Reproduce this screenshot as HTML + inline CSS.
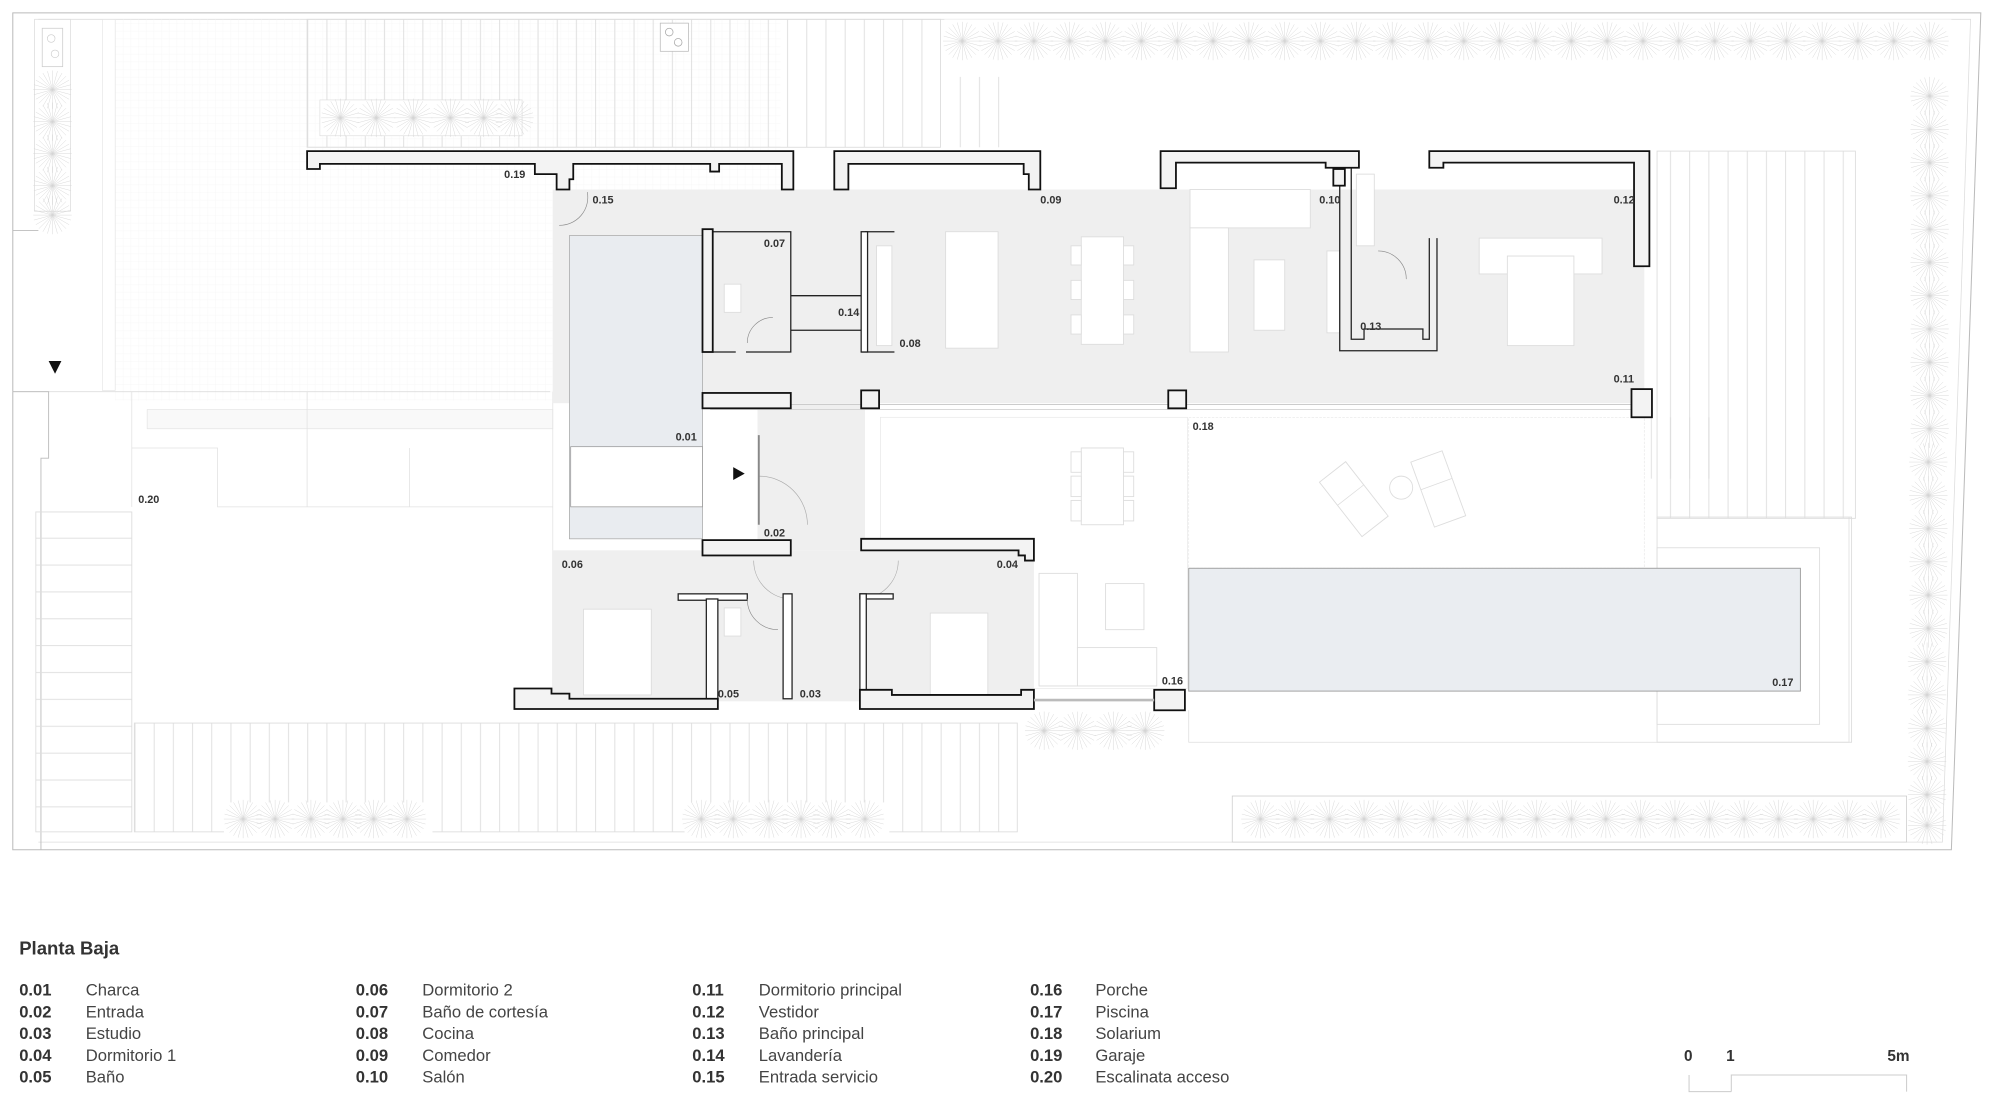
<!DOCTYPE html>
<html><head><meta charset="utf-8">
<style>
html,body{margin:0;padding:0;background:#fff;}
svg{display:block;}
text{font-family:"Liberation Sans",sans-serif;}
.lb{font-size:8.5px;fill:#333;font-weight:bold;}
.lc{font-size:13px;fill:#333;font-weight:bold;}
.ln{font-size:13px;fill:#444;}
.w{fill:#f3f3f3;stroke:#111;stroke-width:1.4;}
.f{fill:#fff;stroke:#ddd;stroke-width:0.7;}
.g{fill:none;stroke:#ddd;stroke-width:0.7;}
</style></head><body>
<svg width="2000" height="1093" viewBox="0 0 1563 854" xmlns="http://www.w3.org/2000/svg">
<defs>
<g id="st" stroke="#d4d4d4" stroke-width="0.35">
<line x1="-15" y1="0" x2="15" y2="0"/><line x1="0" y1="-15" x2="0" y2="15"/>
<line x1="-14.5" y1="-3.9" x2="14.5" y2="3.9"/><line x1="-14.5" y1="3.9" x2="14.5" y2="-3.9"/>
<line x1="-13" y1="-7.5" x2="13" y2="7.5"/><line x1="-13" y1="7.5" x2="13" y2="-7.5"/>
<line x1="-10.6" y1="-10.6" x2="10.6" y2="10.6"/><line x1="-10.6" y1="10.6" x2="10.6" y2="-10.6"/>
<line x1="-7.5" y1="-13" x2="7.5" y2="13"/><line x1="-7.5" y1="13" x2="7.5" y2="-13"/>
<line x1="-3.9" y1="-14.5" x2="3.9" y2="14.5"/><line x1="-3.9" y1="14.5" x2="3.9" y2="-14.5"/>
</g>
<pattern id="vd" width="15" height="10" patternUnits="userSpaceOnUse"><line x1="0.5" y1="0" x2="0.5" y2="10" stroke="#ddd" stroke-width="0.7"/></pattern>
<pattern id="hd" width="10" height="21" patternUnits="userSpaceOnUse"><line x1="0" y1="0.5" x2="10" y2="0.5" stroke="#ddd" stroke-width="0.7"/></pattern>
<pattern id="grid" width="6" height="6" patternUnits="userSpaceOnUse"><path d="M0 0.3H6M0.3 0V6" stroke="#f7f7f7" stroke-width="0.4"/></pattern>
</defs>

<path d="M10 10 H1548 L1525 664 H10 Z" fill="none" stroke="#bbb" stroke-width="0.8"/>
<path d="M30 15 H1540 L1518 658 H30" fill="none" stroke="#ddd" stroke-width="0.6"/>

<rect x="90" y="15" width="520" height="298" fill="url(#grid)"/>
<rect x="80" y="15" width="10" height="290" fill="none" stroke="#e4e4e4" stroke-width="0.5"/>
<line x1="10" y1="180" x2="30" y2="180" stroke="#bbb" stroke-width="0.7"/>
<line x1="10" y1="306" x2="430" y2="306" stroke="#ddd" stroke-width="0.7"/>
<path d="M10 306 H38 V358 H32 V664" fill="none" stroke="#bbb" stroke-width="0.7"/>
<rect x="27" y="15" width="28" height="150" fill="none" stroke="#ddd" stroke-width="0.6"/>
<rect x="33" y="22" width="16" height="30" fill="none" stroke="#ccc" stroke-width="0.6"/>
<circle cx="40" cy="30" r="3" fill="none" stroke="#ccc" stroke-width="0.5"/>
<circle cx="43" cy="42" r="3" fill="none" stroke="#ccc" stroke-width="0.5"/>
<g><use href="#st" x="41" y="70"/><use href="#st" x="41" y="95"/><use href="#st" x="41" y="120"/><use href="#st" x="41" y="145"/><use href="#st" x="41" y="168"/></g>
<polygon points="38,282 48,282 43,292" fill="#111"/>

<rect x="240" y="15" width="495" height="100" fill="url(#vd)"/>
<rect x="240" y="15" width="495" height="100" class="g"/>
<rect x="250" y="78" width="158" height="28" fill="#fff" stroke="#ddd" stroke-width="0.5"/>
<g><use href="#st" x="266" y="92"/><use href="#st" x="294" y="92"/><use href="#st" x="323" y="92"/><use href="#st" x="352" y="92"/><use href="#st" x="378" y="92"/><use href="#st" x="402" y="92"/></g>
<rect x="516" y="18" width="22" height="22" fill="#fff" stroke="#bbb" stroke-width="0.6"/>
<circle cx="523" cy="25" r="3" fill="none" stroke="#aaa" stroke-width="0.6"/><circle cx="530" cy="33" r="3" fill="none" stroke="#aaa" stroke-width="0.6"/>
<rect x="740" y="60" width="48" height="55" fill="url(#vd)"/>
<rect x="738" y="15" width="787" height="35" fill="#fff"/>
<g><use href="#st" x="752" y="32"/><use href="#st" x="780" y="32"/><use href="#st" x="808" y="32"/><use href="#st" x="836" y="32"/><use href="#st" x="864" y="32"/><use href="#st" x="892" y="32"/><use href="#st" x="920" y="32"/><use href="#st" x="948" y="32"/><use href="#st" x="976" y="32"/><use href="#st" x="1004" y="32"/><use href="#st" x="1032" y="32"/><use href="#st" x="1060" y="32"/><use href="#st" x="1088" y="32"/><use href="#st" x="1116" y="32"/><use href="#st" x="1144" y="32"/><use href="#st" x="1172" y="32"/><use href="#st" x="1200" y="32"/><use href="#st" x="1228" y="32"/><use href="#st" x="1256" y="32"/><use href="#st" x="1284" y="32"/><use href="#st" x="1312" y="32"/><use href="#st" x="1340" y="32"/><use href="#st" x="1368" y="32"/><use href="#st" x="1396" y="32"/><use href="#st" x="1424" y="32"/><use href="#st" x="1452" y="32"/><use href="#st" x="1480" y="32"/><use href="#st" x="1508" y="32"/></g>
<g><use href="#st" x="1508" y="75"/><use href="#st" x="1508" y="101"/><use href="#st" x="1508" y="127"/><use href="#st" x="1508" y="153"/><use href="#st" x="1508" y="179"/><use href="#st" x="1508" y="205"/><use href="#st" x="1508" y="231"/><use href="#st" x="1508" y="257"/><use href="#st" x="1508" y="283"/><use href="#st" x="1508" y="309"/><use href="#st" x="1508" y="335"/><use href="#st" x="1507" y="361"/><use href="#st" x="1507" y="387"/><use href="#st" x="1507" y="413"/><use href="#st" x="1507" y="439"/><use href="#st" x="1507" y="465"/><use href="#st" x="1507" y="491"/><use href="#st" x="1506" y="517"/><use href="#st" x="1506" y="543"/><use href="#st" x="1506" y="569"/><use href="#st" x="1506" y="595"/><use href="#st" x="1506" y="621"/><use href="#st" x="1506" y="645"/></g>
<rect x="1295" y="118" width="155" height="287" fill="url(#vd)"/>
<rect x="1295" y="118" width="155" height="287" class="g"/>
<rect x="1295" y="404" width="152" height="176" class="g"/>
<rect x="1295" y="428" width="127" height="138" class="g"/>
<rect x="1290" y="326" width="60" height="48" fill="url(#vd)"/>

<rect x="115" y="320" width="317" height="15" fill="#f9f9f9" stroke="#e2e2e2" stroke-width="0.5"/>
<path d="M103 306 V396 M103 350 H170 V396 H432 M320 350 V396 M240 306 V396 M432 306 V540" fill="none" stroke="#e2e2e2" stroke-width="0.6"/>
<rect x="28" y="400" width="75" height="250" fill="url(#hd)"/>
<rect x="28" y="400" width="75" height="250" class="g"/>
<rect x="105" y="565" width="690" height="85" fill="url(#vd)"/>
<rect x="105" y="565" width="690" height="85" class="g"/>
<rect x="175" y="627" width="163" height="29" fill="#fff"/>
<rect x="535" y="627" width="160" height="29" fill="#fff"/>
<g><use href="#st" x="190" y="640"/><use href="#st" x="215" y="640"/><use href="#st" x="243" y="640"/><use href="#st" x="268" y="640"/><use href="#st" x="292" y="640"/><use href="#st" x="318" y="640"/>
<use href="#st" x="548" y="640"/><use href="#st" x="573" y="640"/><use href="#st" x="601" y="640"/><use href="#st" x="626" y="640"/><use href="#st" x="650" y="640"/><use href="#st" x="676" y="640"/></g>
<rect x="963" y="622" width="527" height="36" fill="#fff" stroke="#ccc" stroke-width="0.6"/>
<g><use href="#st" x="985" y="640"/><use href="#st" x="1012" y="640"/><use href="#st" x="1039" y="640"/><use href="#st" x="1066" y="640"/><use href="#st" x="1093" y="640"/><use href="#st" x="1120" y="640"/><use href="#st" x="1147" y="640"/><use href="#st" x="1174" y="640"/><use href="#st" x="1201" y="640"/><use href="#st" x="1228" y="640"/><use href="#st" x="1255" y="640"/><use href="#st" x="1282" y="640"/><use href="#st" x="1309" y="640"/><use href="#st" x="1336" y="640"/><use href="#st" x="1363" y="640"/><use href="#st" x="1390" y="640"/><use href="#st" x="1417" y="640"/><use href="#st" x="1444" y="640"/><use href="#st" x="1470" y="640"/></g>
<g><use href="#st" x="816" y="571"/><use href="#st" x="842" y="571"/><use href="#st" x="870" y="571"/><use href="#st" x="895" y="571"/></g>
<path d="M929 555 V580 H1445 V404" fill="none" stroke="#ddd" stroke-width="0.6"/>

<rect x="688" y="326" width="240" height="212" fill="#fff" stroke="#e6e6e6" stroke-width="0.5"/>
<rect x="929" y="326" width="356" height="118" fill="#fff" stroke="#e6e6e6" stroke-width="0.5" stroke-dasharray="2 1"/>

<rect x="432" y="148" width="853" height="167" fill="#efefef"/>
<rect x="432" y="430" width="376" height="118" fill="#efefef"/>
<rect x="592" y="315" width="84" height="115" fill="#efefef"/>
<rect x="445" y="184" width="104" height="237" fill="#e9ecf0" stroke="#aaa" stroke-width="0.6"/>
<rect x="446" y="349" width="103" height="47" fill="#fff" stroke="#999" stroke-width="0.6"/>
<rect x="929" y="444" width="478" height="96" fill="#eaedf1" stroke="#999" stroke-width="0.7"/>
<line x1="555" y1="316" x2="1285" y2="316" stroke="#ccc" stroke-width="0.8"/>
<line x1="555" y1="320" x2="1285" y2="320" stroke="#ccc" stroke-width="0.6"/>

<rect x="739" y="181" width="41" height="91" class="f"/>
<rect x="845" y="185" width="33" height="84" class="f"/>
<rect x="837" y="192" width="8" height="15" class="f"/><rect x="837" y="219" width="8" height="15" class="f"/><rect x="837" y="246" width="8" height="15" class="f"/>
<rect x="878" y="192" width="8" height="15" class="f"/><rect x="878" y="219" width="8" height="15" class="f"/><rect x="878" y="246" width="8" height="15" class="f"/>
<rect x="685" y="192" width="12" height="78" class="f"/>
<rect x="930" y="148" width="94" height="30" class="f"/><rect x="930" y="178" width="30" height="97" class="f"/>
<rect x="980" y="203" width="24" height="55" class="f"/>
<rect x="1037" y="196" width="10" height="64" class="f"/>
<rect x="1060" y="136" width="14" height="56" class="f"/>
<rect x="1156" y="186" width="96" height="28" class="f"/>
<rect x="1178" y="200" width="52" height="70" class="f"/>
<rect x="845" y="350" width="33" height="60" class="f"/>
<rect x="837" y="353" width="8" height="16" class="f"/><rect x="837" y="372" width="8" height="16" class="f"/><rect x="837" y="391" width="8" height="16" class="f"/>
<rect x="878" y="353" width="8" height="16" class="f"/><rect x="878" y="372" width="8" height="16" class="f"/><rect x="878" y="391" width="8" height="16" class="f"/>
<rect x="812" y="448" width="30" height="88" class="f"/><rect x="842" y="506" width="62" height="30" class="f"/>
<rect x="864" y="456" width="30" height="36" class="f"/>
<rect x="456" y="476" width="53" height="67" class="f"/>
<rect x="727" y="479" width="45" height="64" class="f"/>
<rect x="566" y="475" width="13" height="22" class="f"/>
<rect x="566" y="222" width="13" height="22" class="f"/>
<g transform="translate(1058,390) rotate(-38)"><rect x="-13" y="-27" width="26" height="54" class="f"/><line x1="-13" y1="-4" x2="13" y2="-4" stroke="#ddd" stroke-width="0.6"/></g>
<circle cx="1095" cy="381" r="9" class="f"/>
<g transform="translate(1124,382) rotate(-20)"><rect x="-13" y="-27" width="26" height="54" class="f"/><line x1="-13" y1="-4" x2="13" y2="-4" stroke="#ddd" stroke-width="0.6"/></g>

<path d="M557 181 H618 V275 H583 M557 275 H575" fill="none" stroke="#222" stroke-width="1"/>
<path d="M618 231 H676 M618 258 H673 M676 181 H699 M673 275 H699" fill="none" stroke="#222" stroke-width="1"/>
<rect x="673" y="181" width="5" height="94" fill="#fff" stroke="#222" stroke-width="1"/>
<rect x="549" y="179" width="8" height="96" class="w"/>
<path d="M1047 130 V274 H1123 V186 M1056 130 V265 H1066 V257 H1112 V265 H1117 V186" fill="none" stroke="#222" stroke-width="1"/>
<path d="M584 268 A20 20 0 0 1 604 248" fill="none" stroke="#888" stroke-width="0.5"/>
<path d="M1099 218 A22 22 0 0 0 1077 196" fill="none" stroke="#888" stroke-width="0.5"/>
<path d="M437 176 A22 22 0 0 0 459 150" fill="none" stroke="#888" stroke-width="0.5"/>
<path d="M593 372 A38 38 0 0 1 631 410" fill="none" stroke="#aaa" stroke-width="0.5"/>
<line x1="593" y1="340" x2="593" y2="410" stroke="#888" stroke-width="1.5"/>
<path d="M589 438 A30 30 0 0 0 619 468 M702 438 A30 30 0 0 1 672 468" fill="none" stroke="#aaa" stroke-width="0.5"/>
<rect x="530" y="464" width="54" height="5" fill="#fff" stroke="#222" stroke-width="1"/>
<rect x="552" y="468" width="9" height="78" fill="#fff" stroke="#222" stroke-width="1"/>
<rect x="612" y="464" width="7" height="82" fill="#fff" stroke="#222" stroke-width="1"/>
<path d="M584 468 A24 24 0 0 0 608 492" fill="none" stroke="#888" stroke-width="0.5"/>
<rect x="672" y="464" width="26" height="4" fill="#fff" stroke="#222" stroke-width="1"/>
<rect x="672" y="464" width="5" height="76" fill="#fff" stroke="#222" stroke-width="1"/>

<path class="w" d="M240 118 H620 V148 H611 V128 H562 V134 H555 V128 H448 V140 H445 V148 H435 V136 H418 V128 H250 V132 H240 Z"/>
<path class="w" d="M652 118 H813 V148 H804 V136 H800 V128 H663 V148 H652 Z"/>
<path class="w" d="M907 118 H1062 V131 H1036 V127 H919 V147 H907 Z"/>
<path class="w" d="M1117 118 H1289 V208 H1277 V127 H1128 V131 H1117 Z"/>
<rect class="w" x="1042" y="132" width="9" height="13"/>
<rect class="w" x="549" y="307" width="69" height="12"/>
<rect class="w" x="549" y="422" width="69" height="12"/>
<rect class="w" x="673" y="305" width="14" height="14"/>
<rect class="w" x="913" y="305" width="14" height="14"/>
<rect class="w" x="1275" y="304" width="16" height="22"/>
<path class="w" d="M673 421 H808 V438 H801 V434 H796 V430 H673 Z"/>
<path class="w" d="M402 538 H431 V542 H445 V546 H561 V554 H402 Z"/>
<path class="w" d="M672 539 H697 V543 H798 V539 H808 V554 H672 Z"/>
<rect class="w" x="902" y="539" width="24" height="16"/>
<line x1="808" y1="547" x2="902" y2="547" stroke="#bbb" stroke-width="2"/>

<polygon points="573,365 582,370 573,375" fill="#111"/>

<text class="lb" x="394" y="139">0.19</text>
<text class="lb" x="463" y="159">0.15</text>
<text class="lb" x="597" y="193">0.07</text>
<text class="lb" x="655" y="247">0.14</text>
<text class="lb" x="703" y="271">0.08</text>
<text class="lb" x="813" y="159">0.09</text>
<text class="lb" x="1031" y="159">0.10</text>
<text class="lb" x="1261" y="159">0.12</text>
<text class="lb" x="1063" y="258">0.13</text>
<text class="lb" x="1261" y="299">0.11</text>
<text class="lb" x="932" y="336">0.18</text>
<text class="lb" x="528" y="344">0.01</text>
<text class="lb" x="597" y="419">0.02</text>
<text class="lb" x="439" y="444">0.06</text>
<text class="lb" x="779" y="444">0.04</text>
<text class="lb" x="108" y="393">0.20</text>
<text class="lb" x="908" y="535">0.16</text>
<text class="lb" x="1385" y="536">0.17</text>
<text class="lb" x="561" y="545">0.05</text>
<text class="lb" x="625" y="545">0.03</text>

<g transform="translate(0,-3)">
<text x="15" y="749" style="font-size:14.5px;font-weight:bold;fill:#333">Planta Baja</text>
<g class="lc"><text x="15" y="781">0.01</text><text x="15" y="798">0.02</text><text x="15" y="815">0.03</text><text x="15" y="832">0.04</text><text x="15" y="849">0.05</text>
<text x="278" y="781">0.06</text><text x="278" y="798">0.07</text><text x="278" y="815">0.08</text><text x="278" y="832">0.09</text><text x="278" y="849">0.10</text>
<text x="541" y="781">0.11</text><text x="541" y="798">0.12</text><text x="541" y="815">0.13</text><text x="541" y="832">0.14</text><text x="541" y="849">0.15</text>
<text x="805" y="781">0.16</text><text x="805" y="798">0.17</text><text x="805" y="815">0.18</text><text x="805" y="832">0.19</text><text x="805" y="849">0.20</text></g>
<g class="ln"><text x="67" y="781">Charca</text><text x="67" y="798">Entrada</text><text x="67" y="815">Estudio</text><text x="67" y="832">Dormitorio 1</text><text x="67" y="849">Baño</text>
<text x="330" y="781">Dormitorio 2</text><text x="330" y="798">Baño de cortesía</text><text x="330" y="815">Cocina</text><text x="330" y="832">Comedor</text><text x="330" y="849">Salón</text>
<text x="593" y="781">Dormitorio principal</text><text x="593" y="798">Vestidor</text><text x="593" y="815">Baño principal</text><text x="593" y="832">Lavandería</text><text x="593" y="849">Entrada servicio</text>
<text x="856" y="781">Porche</text><text x="856" y="798">Piscina</text><text x="856" y="815">Solarium</text><text x="856" y="832">Garaje</text><text x="856" y="849">Escalinata acceso</text></g>
<g class="lc" style="font-size:12px"><text x="1316" y="832">0</text><text x="1349" y="832">1</text><text x="1475" y="832">5m</text></g>
</g>
<path d="M1320 840 V853 H1353 M1353 853 V840 H1490 V853" fill="none" stroke="#ccc" stroke-width="0.8"/>
</svg>
</body></html>
